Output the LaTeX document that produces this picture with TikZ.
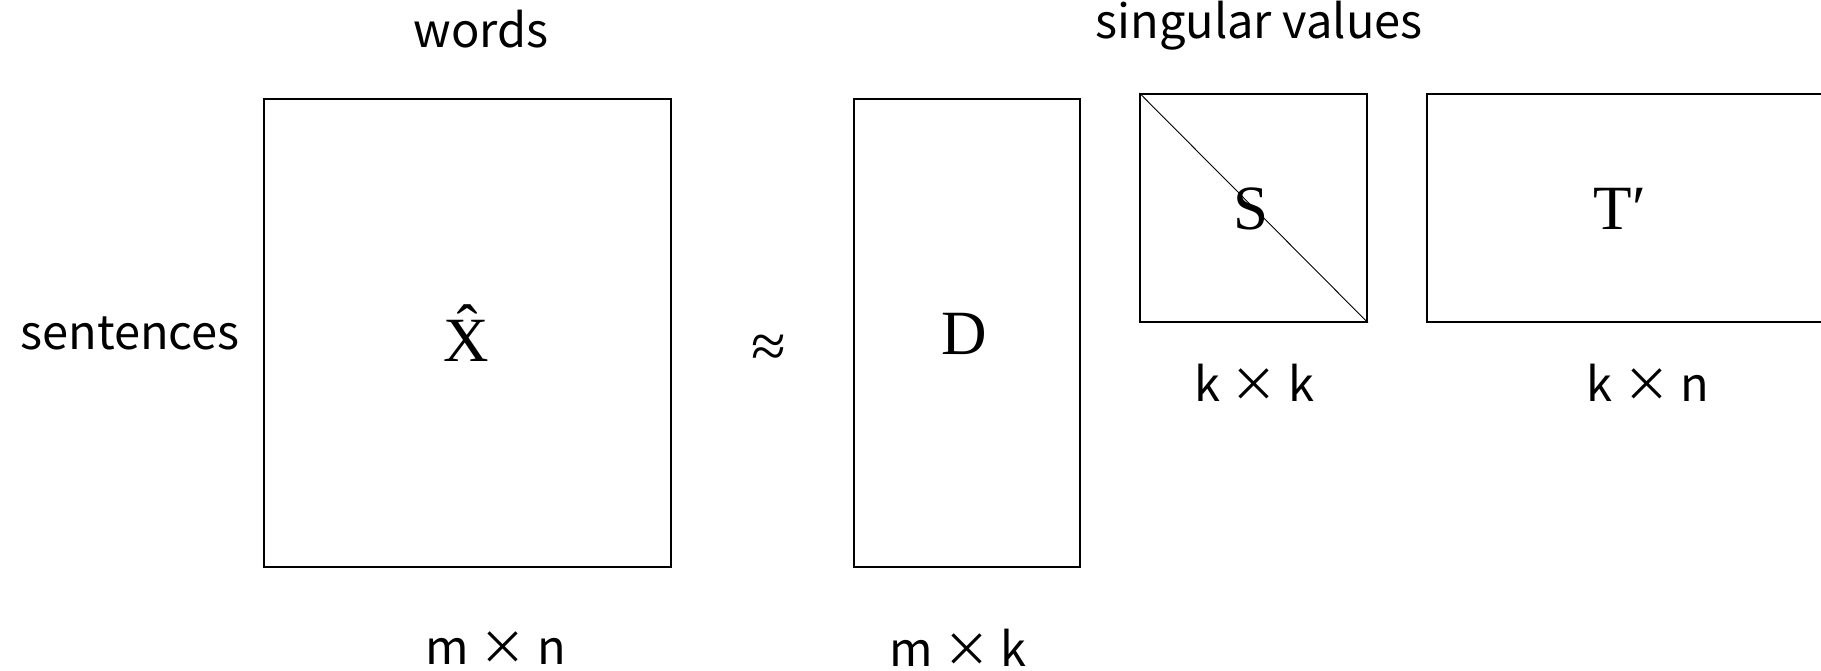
\documentclass[tikz,border=0pt]{standalone}
\usepackage{fontspec}
\newfontfamily\jpfont{Noto Sans CJK JP}
\newfontfamily\serfont{Liberation Serif}
\begin{document}
\begin{tikzpicture}[x=1pt,y=-1pt,
  matbox/.style={draw=black, line width=2pt, inner sep=0pt},
  lbl/.style={font=\jpfont\fontsize{47}{54}\selectfont, inner sep=0pt, anchor=center},
  sym/.style={font=\serfont\fontsize{63}{70}\selectfont, inner sep=0pt, anchor=center}]
\clip (0,0) rectangle (1821,670);
\fill[white] (0,0) rectangle (1821,670);
\node[matbox, minimum width=407.7pt, minimum height=468pt] (X) at (467.5,332.8) {};
\node[sym] (Xt) at (466,333) {\^{X}};
\node[matbox, minimum width=226.4pt, minimum height=468pt] (D) at (966.8,332.8) {};
\node[sym] (Dt) at (964,334) {D};
\node[matbox, minimum width=226.5pt, minimum height=227.7pt] (S) at (1253.7,207.9) {};
\draw[line width=0.9pt] (S.north west) -- (S.south east);
\node[sym] (St) at (1251,209) {S};
\node[matbox, minimum width=440pt, minimum height=227.7pt] (T) at (1647.4,207.9) {};
\node[sym] (Tt) at (1620,209) {T′};
\node[sym] (approx) at (769,351) {≈};
\node[lbl] (words) at (481,29) {words};
\node[lbl] (sent) at (130,333) {sentences};
\node[lbl] (sing) at (1259,26) {singular values};
\node[lbl] (mn) at (496,648) {m × n};
\node[lbl] (mk) at (958,648) {m × k};
\node[lbl] (kk) at (1254,383) {k × k};
\node[lbl] (kn) at (1648,383) {k × n};
\end{tikzpicture}
\end{document}
